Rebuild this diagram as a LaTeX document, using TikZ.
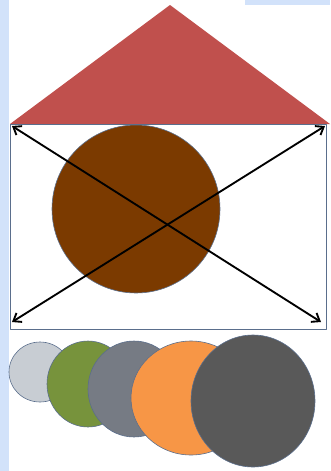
\documentclass[tikz,border=0pt]{standalone}
\usetikzlibrary{arrows.meta}
\definecolor{houseRoof}{RGB}{192,80,77}
\definecolor{houseOutline}{RGB}{90,110,140}
\definecolor{housePane}{RGB}{210,226,250}
\definecolor{houseWindow}{RGB}{123,58,0}
\begin{document}
\begin{tikzpicture}
% House sketch: roof, wall with crossed arrows, row of stones
\def\pxsz{0.03cm}
\providecommand{\houseArrowWidth}{1.6pt}
\begin{scope}[x=\pxsz, y=-\pxsz, line cap=round, line join=round]
  % Background and frame of the page
  \fill[white] (0,0) rectangle (330,471);
  \useasboundingbox (0,0) rectangle (330,471);
  \fill[housePane] (0,0) rectangle (9,471);
  \fill[housePane] (245,0) rectangle (330,5);
  % Roof
  \fill[houseRoof] (170,5) -- (330,124) -- (10,124) -- cycle;
  % Wall
  \draw[draw=houseOutline, fill=white, line width=0.6pt] (10,124) rectangle (326,329);
  % Round window
  \draw[draw=houseOutline, fill=houseWindow, line width=0.5pt] (136,209) circle (84);
  % Crossed arrows between the wall corners
  \coordinate (tl) at (12,126);
  \coordinate (br) at (321,322);
  \coordinate (bl) at (12,322);
  \coordinate (tr) at (325,126);
  \begin{scope}[line width=\houseArrowWidth, {Straight Barb[length=6pt,width=9pt]}-{Straight Barb[length=6pt,width=9pt]}]
    \draw (tl) -- (br);
    \draw (bl) -- (tr);
  \end{scope}
  % Stones, from left to right
  \begin{scope}[draw=houseOutline, line width=0.5pt]
    \draw[fill={rgb,255:red,200;green,205;blue,211}] (40,372) ellipse (31 and 30);
    \draw[fill={rgb,255:red,119;green,147;blue,60}] (88,384) ellipse (41 and 43);
    \draw[fill={rgb,255:red,118;green,123;blue,132}] (134,389) ellipse (46 and 48);
    \draw[fill={rgb,255:red,247;green,150;blue,70}] (191,398) ellipse (60 and 57);
    \draw[fill={rgb,255:red,89;green,89;blue,89}] (253,401) ellipse (62 and 66);
  \end{scope}
\end{scope}
\end{tikzpicture}
\end{document}
